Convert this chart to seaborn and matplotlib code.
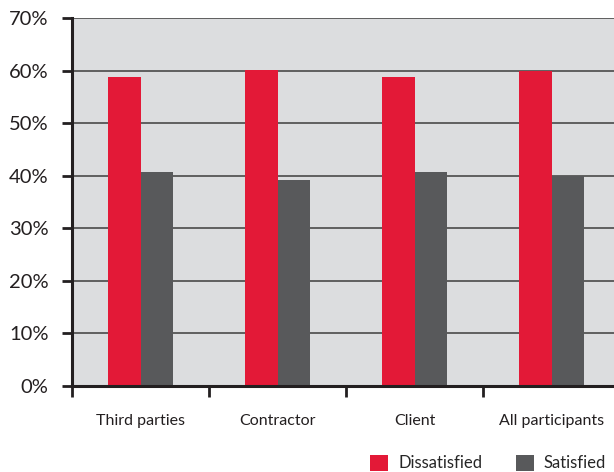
import matplotlib
matplotlib.use("Agg")
import matplotlib.pyplot as plt
import seaborn as sns
import pandas as pd
from matplotlib.patches import Patch

categories = ["Third parties", "Contractor", "Client", "All participants"]
dissatisfied = [58.8, 60.1, 58.8, 59.9]
satisfied = [40.8, 39.2, 40.8, 40.0]
series = ["Dissatisfied", "Satisfied"]
colors = ["#e31937", "#58595b"]
yticks = [0, 10, 20, 30, 40, 50, 60, 70]

df = pd.DataFrame({
    "category": categories * 2,
    "value": dissatisfied + satisfied,
    "series": [series[0]] * 4 + [series[1]] * 4,
})

sns.set_theme(style="white")
plt.rcParams["font.family"] = ["Lato", "DejaVu Sans"]

fig = plt.figure(figsize=(6.14, 4.72), dpi=100)
ax = fig.add_axes([72/614, 86/472, (614-72)/614, 368/472])
ax.set_facecolor("#dcdddf")

sns.barplot(data=df, x="category", y="value", hue="series", palette=colors,
            width=0.48, dodge=True, ax=ax, saturation=1, legend=False)
for p in ax.patches:
    p.set_edgecolor("none")

ax.set_xlim(-0.5, 3.456)
ax.set_ylim(0, 70)
ax.set_yticks(yticks)
ax.set_yticklabels([f"{v}%" for v in yticks], fontsize=14.5, color="#231f20")
for v in yticks[1:]:
    ax.axhline(v, color="#555555", lw=1.3, zorder=0.5)

ax.set_xticks(range(len(categories)))
ax.set_xticklabels(categories, fontsize=11.5, color="#231f20")
ax.set_xticks([-0.5, 0.5, 1.5, 2.5], minor=True)
ax.tick_params(axis="x", which="major", length=0, pad=20)
ax.tick_params(axis="x", which="minor", length=8, width=2, color="#231f20", direction="out", bottom=True)
ax.tick_params(axis="y", length=7, width=2, color="#231f20", pad=10, left=True)

ax.set_xlabel("")
ax.set_ylabel("")
for s in ["top", "right"]:
    ax.spines[s].set_visible(False)
for s in ["left", "bottom"]:
    ax.spines[s].set_color("#231f20")
    ax.spines[s].set_linewidth(2.2)

handles = [Patch(facecolor=c, edgecolor="none", label=l) for c, l in zip(colors, series)]
fig.legend(handles=handles, loc="lower right", bbox_to_anchor=(0.998, -0.013), ncol=2,
           frameon=False, fontsize=12, handlelength=1.1, handleheight=1.1,
           handletextpad=0.6, columnspacing=2.0, borderaxespad=0)

fig.savefig("out.png", dpi=100)
